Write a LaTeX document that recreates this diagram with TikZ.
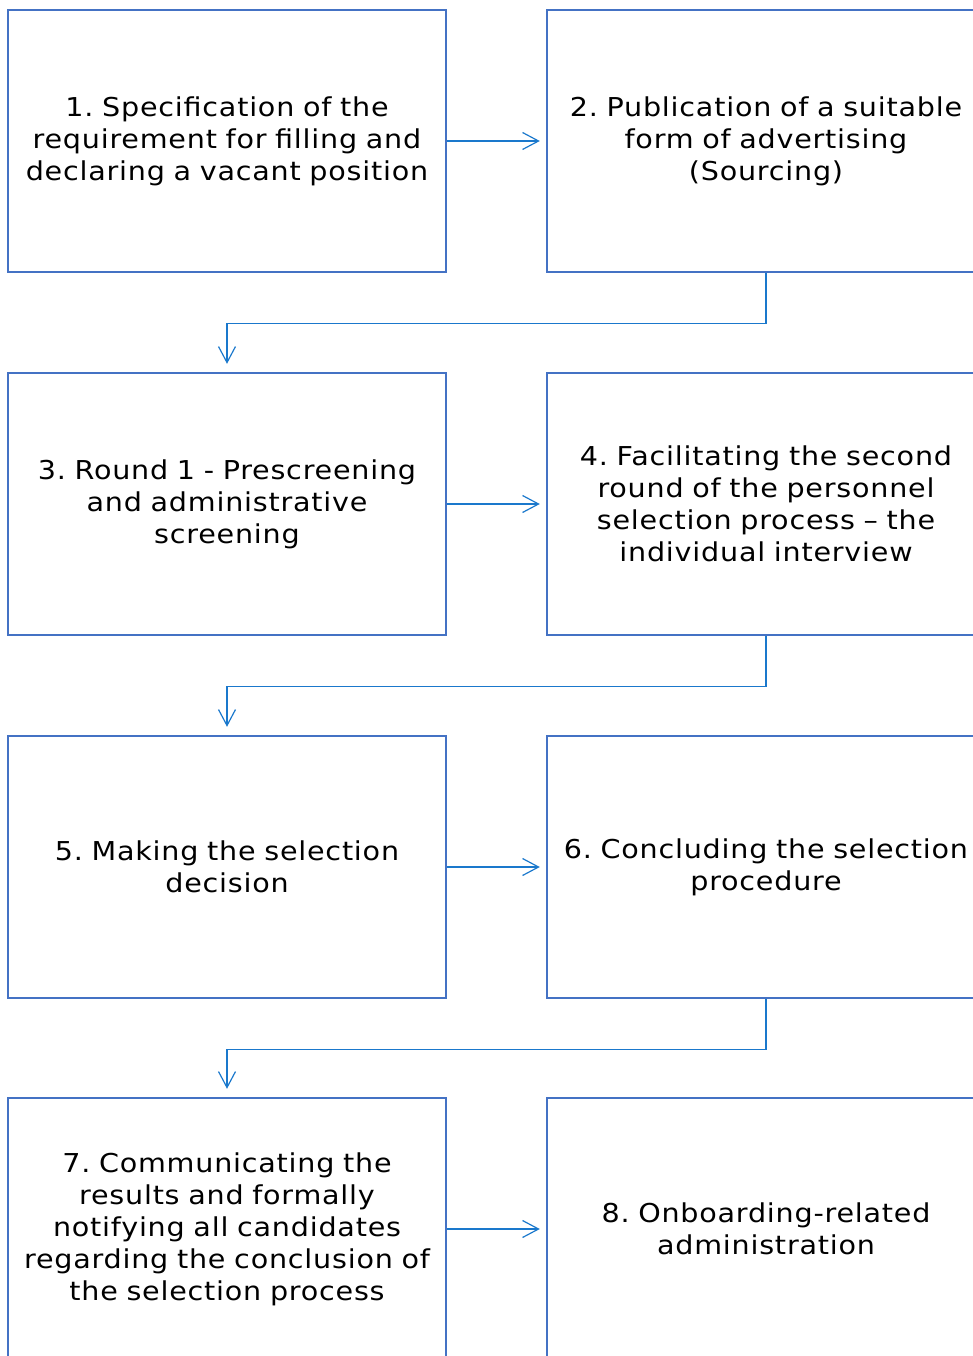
\documentclass[tikz,border=0pt]{standalone}
\usepackage{fontspec}
\setmainfont{DejaVu Sans}[FakeStretch=1.1,LetterSpace=3]
\usetikzlibrary{arrows.meta}
\definecolor{boxc}{HTML}{4472C4}
\definecolor{arrc}{HTML}{1A78CC}
\frenchspacing
\begin{document}
\begin{tikzpicture}[x=1pt,y=-1pt,
  stepbox/.style={draw=boxc, line width=2.4pt, minimum width=438pt, minimum height=262pt,
    inner sep=0pt, align=center, text width=434pt,
    font=\fontsize{26pt}{32pt}\selectfont},
  flow/.style={draw=arrc, line width=1.2pt, -{Straight Barb[length=16pt,width=17pt,line width=1.2pt]}}]
\useasboundingbox (0,0) rectangle (973,1356);
\begin{scope}
\clip (0,0) rectangle (973,1356);
\node[stepbox] (b1) at (227,141) {1. Specification of the\\requirement for filling and\\declaring a vacant position};
\node[stepbox] (b2) at (766,141) {2. Publication of a suitable\\form of advertising\\(Sourcing)};
\node[stepbox] (b3) at (227,504) {3. Round 1 - Prescreening\\and administrative\\screening};
\node[stepbox] (b4) at (766,504) {4. Facilitating the second\\round of the personnel\\selection process -- the\\individual interview};
\node[stepbox] (b5) at (227,867) {5. Making the selection\\decision};
\node[stepbox] (b6) at (766,867) {6. Concluding the selection\\procedure};
\node[stepbox] (b7) at (227,1229) {7. Communicating the\\results and formally\\notifying all candidates\\regarding the conclusion of\\the selection process};
\node[stepbox] (b8) at (766,1229) {8. Onboarding-related\\administration};
\end{scope}
\draw[flow] (b1.east) -- ([xshift=-6pt]b2.west);
\draw[flow] (b3.east) -- ([xshift=-6pt]b4.west);
\draw[flow] (b5.east) -- ([xshift=-6pt]b6.west);
\draw[flow] (b7.east) -- ([xshift=-6pt]b8.west);
\draw[flow] (b2.south) -- ++(0,50) -| ([yshift=8pt]b3.north);
\draw[flow] (b4.south) -- ++(0,50) -| ([yshift=8pt]b5.north);
\draw[flow] (b6.south) -- ++(0,50) -| ([yshift=8pt]b7.north);
\end{tikzpicture}
\end{document}
